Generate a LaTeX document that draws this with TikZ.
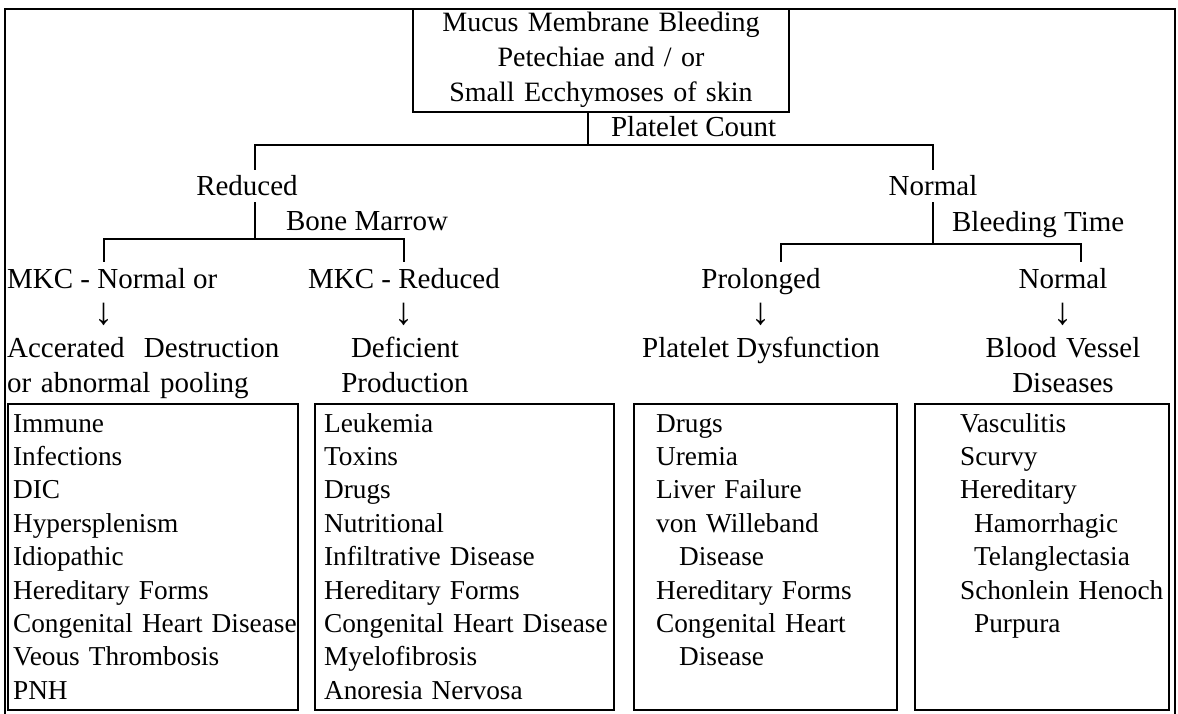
\documentclass[tikz,border=0pt]{standalone}
\usepackage{fontspec}
\setmainfont{Liberation Serif}
\begin{document}
\begin{tikzpicture}
  [x=1pt, y=-1pt, line width=2.2pt,
  head/.style={font=\fontsize{29}{35}\selectfont, inner sep=5pt, anchor=base},
  note/.style={font=\fontsize{29}{35}\selectfont, inner sep=0pt, anchor=base west},
  downarrow/.style={font=\fontsize{38}{38}\selectfont, inner sep=0pt, anchor=base},
  listbox/.style={draw, anchor=north west, minimum height=306pt, inner sep=0pt},
  listtext/.style={font=\fontsize{27.3}{33.4}\selectfont, inner sep=0pt, anchor=base west,
    text width=300pt, align=left}]
  \useasboundingbox (0,0) rectangle (1178,714);
  \draw (5,714) |- (1175,9) -- (1175,714);
  \node[draw, font=\fontsize{28}{35}\selectfont, anchor=base, inner xsep=8pt, inner ysep=0pt,
    text width=360pt, align=center, text height=23pt, text depth=80pt]
    (bleeding) at (601,32) {Mucus Membrane Bleeding\\Petechiae and / or\\Small Ecchymoses of skin};
  \coordinate (countfork) at (588,145);
  \node[note] (count) at (610,137) {Platelet Count};
  \node[head] (reduced) at (247,196) {Reduced};
  \node[head] (normal) at (933,196) {Normal};
  \coordinate (marrowfork) at (255,239);
  \coordinate (timefork) at (933,244);
  \node[note] (marrow) at (285,230) {Bone Marrow};
  \node[note] (bleedtime) at (951,232) {Bleeding Time};
  \node[head, anchor=base west, inner xsep=1pt] (mkcnormal) at (5,288) {MKC - Normal or};
  \node[head] (mkcreduced) at (404,288) {MKC - Reduced};
  \node[head] (prolonged) at (761,288) {Prolonged};
  \node[head] (vesselnormal) at (1063,288) {Normal};
  \node[downarrow] (destrarrow) at (104,324) {↓};
  \node[downarrow] (deficarrow) at (404,324) {↓};
  \node[downarrow] (dysfarrow) at (761,324) {↓};
  \node[downarrow] (vesselarrow) at (1063,324) {↓};
  \node[note, text width=300pt, align=left] (destruction) at (6,357)
    {Accerated\ \ Destruction\\or abnormal pooling};
  \node[head, inner sep=0pt, text width=200pt, align=center] (deficient) at (405,357)
    {Deficient\\Production};
  \node[head, inner sep=0pt] (dysfunction) at (761,357) {Platelet Dysfunction};
  \node[head, inner sep=0pt, text width=200pt, align=center] (vessel) at (1063,357)
    {Blood Vessel\\Diseases};
  \node[listbox, minimum width=290pt] (immunebox) at (7,403) {};
  \node[listbox, minimum width=299pt] (leukbox) at (314,403) {};
  \node[listbox, minimum width=263pt] (drugbox) at (633,403) {};
  \node[listbox, minimum width=254pt] (vascbox) at (914,403) {};
  \node[listtext] (immunelist) at (12,432)
    {Immune\\Infections\\DIC\\Hypersplenism\\Idiopathic\\Hereditary Forms\\Congenital Heart Disease\\Veous Thrombosis\\PNH};
  \node[listtext] (leuklist) at (323,432)
    {Leukemia\\Toxins\\Drugs\\Nutritional\\Infiltrative Disease\\Hereditary Forms\\Congenital Heart Disease\\Myelofibrosis\\Anoresia Nervosa};
  \node[listtext] (druglist) at (655,432)
    {Drugs\\Uremia\\Liver Failure\\von Willeband\\\hspace*{23pt}Disease\\Hereditary Forms\\Congenital Heart\\\hspace*{23pt}Disease};
  \node[listtext] (vasclist) at (959,432)
    {Vasculitis\\Scurvy\\Hereditary\\\hspace*{14pt}Hamorrhagic\\\hspace*{14pt}Telanglectasia\\Schonlein Henoch\\\hspace*{14pt}Purpura};
  \draw (bleeding.south -| countfork) -- (countfork);
  \draw ([xshift=8pt]reduced.north) |- (countfork) -| (normal.north);
  \draw ([xshift=8pt]reduced.south) -- (marrowfork);
  \draw (normal.south) -- (timefork);
  \draw (destrarrow |- mkcnormal.north) |- (marrowfork) -| (mkcreduced.north);
  \draw ([xshift=20pt]prolonged.north) |- (timefork) -| ([xshift=18pt]vesselnormal.north);
\end{tikzpicture}
\end{document}
